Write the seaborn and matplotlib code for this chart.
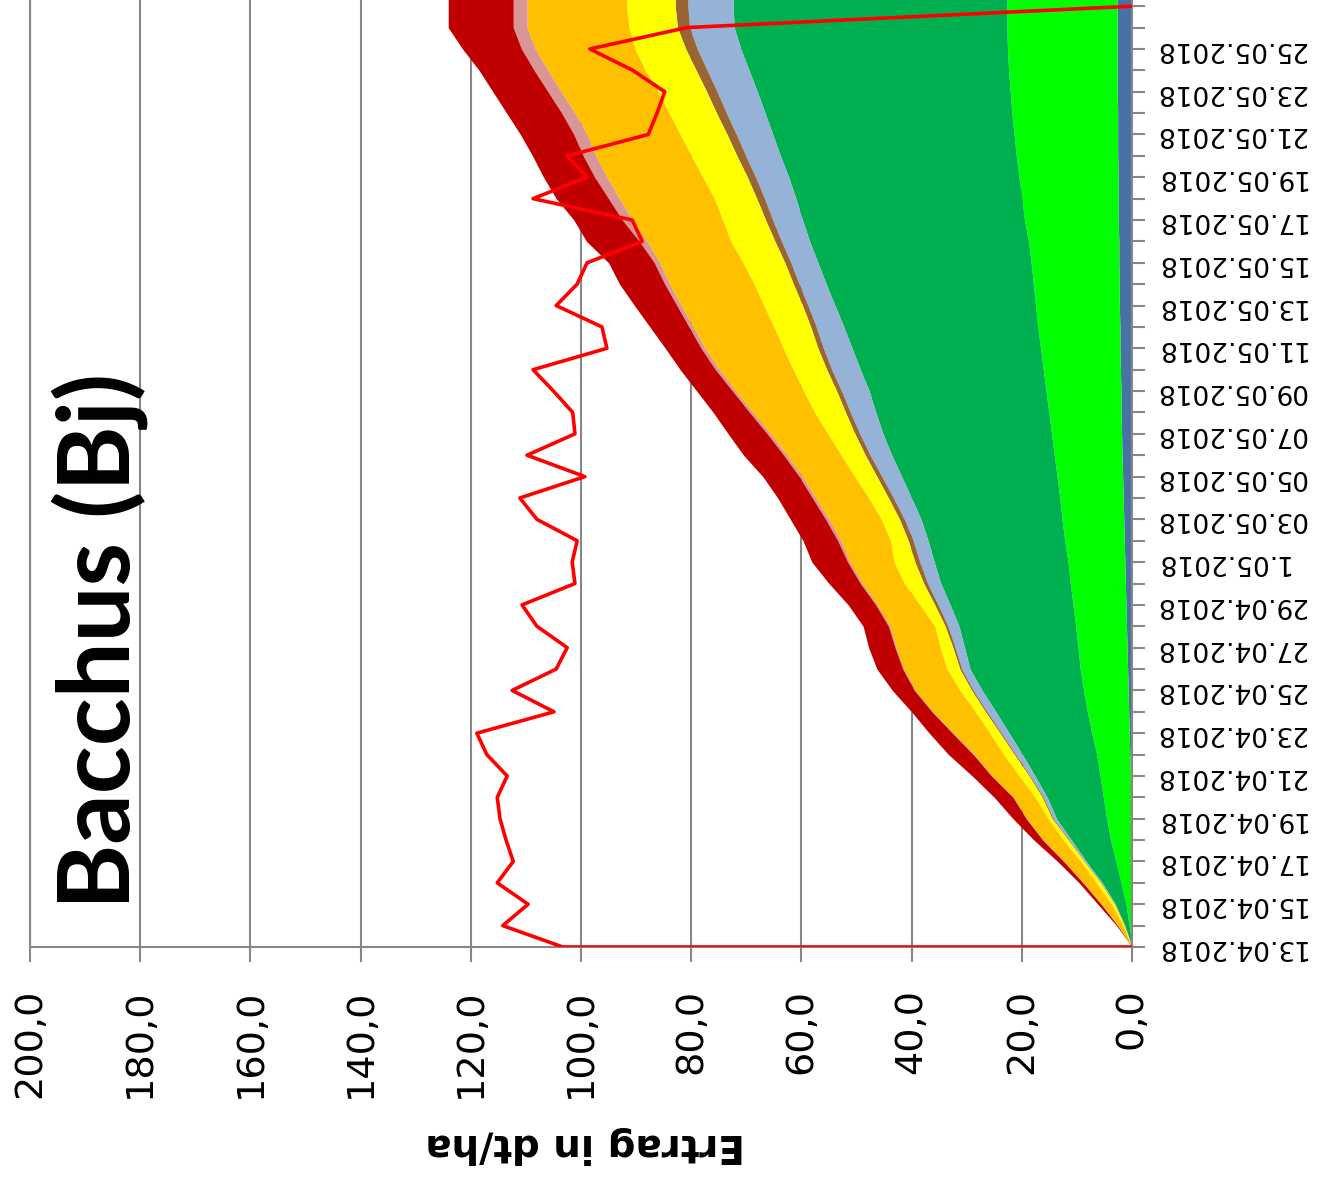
import numpy as np
import pandas as pd
import matplotlib
matplotlib.use("Agg")
import matplotlib.pyplot as plt
import matplotlib.dates as mdates
from matplotlib.ticker import FuncFormatter
import seaborn as sns

# ---------------- data ----------------
dates = pd.date_range("2018-04-13", "2018-05-28", freq="D")   # 46 days (last one runs off the top)
tick_dates = dates[:45]

date_labels = ["13.04.2018", "15.04.2018", "17.04.2018", "19.04.2018", "21.04.2018",
               "23.04.2018", "25.04.2018", "27.04.2018", "29.04.2018", "1.05.2018",
               "03.05.2018", "05.05.2018", "07.05.2018", "09.05.2018", "11.05.2018",
               "13.05.2018", "15.05.2018", "17.05.2018", "19.05.2018", "21.05.2018",
               "23.05.2018", "25.05.2018"]

value_ticks = [0, 20, 40, 60, 80, 100, 120, 140, 160, 180, 200]

# upper edges of the stacked areas (cumulative, dt/ha), one value per day
edge_blue = [0, 0.05, 0.1, 0.1, 0.15, 0.2, 0.2, 0.25, 0.3, 0.4,
             0.5, 0.6, 0.7, 0.8, 0.9, 1.0, 1.1, 1.2, 1.3, 1.4,
             1.5, 1.6, 1.7, 1.8, 1.9, 2.0, 2.0, 2.1, 2.2, 2.2,
             2.3, 2.3, 2.4, 2.4, 2.5, 2.5, 2.5, 2.6, 2.6, 2.6,
             2.7, 2.7, 2.7, 2.7, 2.7, 2.7]
edge_lime = [0, 0.5, 1.1, 2.0, 2.9, 3.9, 4.6, 5.2, 5.8, 6.4,
             7.3, 8.1, 8.8, 9.4, 9.8, 10.2, 10.7, 11.2, 11.6, 12.2,
             12.7, 13.1, 13.6, 14.1, 14.6, 15.1, 15.6, 16.1, 16.6, 17.1,
             17.5, 17.9, 18.3, 18.8, 19.5, 20.0, 20.5, 21.0, 21.4, 21.8,
             22.1, 22.4, 22.6, 22.7, 22.7, 22.7]
edge_green = [0, 1.3, 3.0, 5.4, 8.3, 11.0, 13.7, 15.4, 17.6, 19.9,
              22.3, 24.7, 27.2, 29.4, 30.4, 31.4, 33.0, 34.7, 35.9, 37.0,
              38.3, 40.0, 41.8, 43.6, 45.2, 46.5, 47.7, 49.3, 50.8, 52.3,
              53.9, 55.5, 57.0, 58.5, 59.8, 61.0, 62.3, 63.8, 65.2, 66.6,
              68.0, 69.5, 71.0, 72.2, 72.4, 72.4]
edge_lightblue = [0, 1.35, 3.1, 5.6, 8.6, 11.4, 14.3, 16.1, 18.5, 21.1,
                  23.7, 26.3, 28.8, 30.9, 32.1, 33.4, 35.2, 37.1, 38.5, 39.7,
                  41.3, 43.3, 45.4, 47.5, 49.4, 51.1, 52.7, 54.5, 56.0, 57.3,
                  58.8, 60.4, 61.9, 63.6, 65.2, 66.7, 68.3, 70.1, 71.8, 73.6,
                  75.3, 77.1, 78.9, 80.3, 80.6, 80.6]
edge_brown = [0, 1.4, 3.2, 5.7, 8.7, 11.55, 14.5, 16.3, 18.7, 21.35,
              23.95, 26.6, 29.1, 31.25, 32.5, 33.9, 35.8, 37.8, 39.4, 40.6,
              42.2, 44.2, 46.3, 48.4, 50.3, 52.0, 53.6, 55.4, 57.0, 58.3,
              59.8, 61.45, 63.0, 64.8, 66.5, 68.1, 69.8, 71.7, 73.5, 75.4,
              77.2, 79.1, 81.0, 82.5, 82.9, 82.9]
edge_yellow = [0, 1.6, 3.7, 6.5, 9.3, 12.5, 15.2, 17.6, 20.5, 23.3,
               25.8, 28.4, 31.2, 33.6, 34.8, 35.8, 38.5, 41.3, 43.2, 43.8,
               45.5, 47.8, 50.3, 52.8, 55.2, 57.6, 59.6, 61.5, 63.3, 65.0,
               66.8, 68.6, 70.6, 72.8, 74.3, 75.8, 77.9, 80.0, 82.0, 84.0,
               86.0, 88.3, 90.2, 91.3, 91.7, 91.7]
edge_orange = [0, 2.55, 5.55, 8.8, 12.3, 16.1, 19.1, 21.5, 25.4, 28.6,
               32.4, 36.1, 39.3, 41.4, 42.8, 43.9, 46.2, 48.9, 51.2, 52.8,
               55.0, 57.4, 59.8, 62.6, 65.6, 68.8, 71.9, 74.9, 77.5, 79.6,
               81.8, 83.9, 85.7, 88.0, 90.7, 93.0, 95.3, 97.3, 98.9, 101.1,
               103.6, 106.0, 108.3, 109.8, 109.8, 109.8]
edge_pink = [0, 2.6, 5.6, 8.9, 12.4, 16.2, 19.2, 21.6, 25.5, 28.8,
             32.6, 36.3, 39.5, 41.6, 43.0, 44.2, 46.5, 49.3, 51.6, 53.4,
             55.6, 58.0, 60.4, 63.2, 66.2, 69.4, 72.5, 75.6, 78.2, 80.4,
             82.6, 84.8, 86.7, 89.4, 92.5, 95.0, 97.5, 99.6, 101.3, 103.5,
             106.0, 108.5, 110.8, 112.3, 112.3, 112.3]
edge_darkred = [0, 2.8, 6.2, 9.6, 13.5, 17.8, 21.6, 25.0, 29.0, 33.3,
                36.8, 40.0, 43.5, 46.3, 47.8, 48.8, 51.5, 55.0, 58.1, 59.7,
                62.0, 64.3, 67.0, 70.5, 73.3, 76.0, 79.0, 82.0, 84.7, 87.5,
                90.3, 93.0, 95.0, 99.0, 101.3, 104.5, 106.8, 108.8, 111.0, 113.5,
                116.0, 118.5, 121.5, 124.1, 124.1, 124.1]

# red line (first date repeated: line starts at 0), 13.04 .. 27.05
red_dates = [dates[0]] + list(dates[:45])
red_values = [0, 103.3, 114.2, 109.6, 115.2, 112.3, 113.6, 114.7, 115.2, 113.4, 117.1,
              118.9, 104.9, 112.5, 104.5, 102.5, 108.0, 110.7, 101.1, 101.6, 100.7,
              108.0, 111.1, 99.3, 109.8, 101.1, 101.5, 105.0, 108.7, 95.3, 96.2,
              104.5, 100.7, 98.9, 88.9, 90.7, 108.7, 98.9, 102.5, 87.8, 86.2,
              84.8, 90.6, 98.4, 80.8, 0]

layer_colors = ["#4672A6", "#00FF00", "#00B050", "#95B3D7", "#996633",
                "#FFFF00", "#FFC000", "#D99694", "#C00000"]

# ---------------- drawing ----------------
sns.set_theme(style="white")
plt.rcParams["font.family"] = ["DejaVu Sans"]
GRAY = "#878787"

W, H = 1323, 1182
fig = plt.figure(figsize=(W / 100, H / 100), dpi=100)
ax = fig.add_axes([30 / W, 235 / H, 1102 / W, 947 / H])

y = mdates.date2num(dates)
edges = [np.zeros(len(y)), edge_blue, edge_lime, edge_green, edge_lightblue,
         edge_brown, edge_yellow, edge_orange, edge_pink, edge_darkred]
for lo, hi, c in zip(edges[:-1], edges[1:], layer_colors):
    ax.fill_betweenx(y, lo, hi, color=c, lw=0, zorder=2)

red_df = pd.DataFrame({"value": red_values, "date": mdates.date2num(red_dates)})
sns.lineplot(data=red_df, x="value", y="date", estimator=None, sort=False,
             color="#FF0000", lw=2.6, ax=ax, zorder=3)

ax.set_xlim(200, 0)
ax.set_ylim(y[0], y[0] + 44.29)
ax.set_xlabel("")
ax.set_ylabel("")

ax.set_xticks(value_ticks)
ax.xaxis.set_major_formatter(FuncFormatter(lambda v, p: f"{v:.1f}".replace(".", ",")))
ax.grid(axis="x", color=GRAY, lw=1.5, zorder=1)
ax.grid(axis="y", visible=False)
ax.set_axisbelow(True)

yt = mdates.date2num(tick_dates)
ylabels = []
for i in range(len(yt)):
    ylabels.append(date_labels[i // 2] if (i % 2 == 0 and i // 2 < len(date_labels)) else "")
ax.set_yticks(yt)
ax.set_yticklabels(ylabels)
ax.yaxis.tick_right()

ax.tick_params(axis="y", which="major", right=True, left=False, labelright=True,
               labelleft=False, direction="out", length=9.5, width=1.5,
               color=GRAY, pad=7, labelsize=19, labelcolor="black")
ax.tick_params(axis="x", which="major", bottom=True, direction="out", length=11,
               width=1.5, color=GRAY, pad=19, labelsize=27.5, labelcolor="black",
               labelrotation=90)
for lab in ax.get_yticklabels():
    lab.set_rotation(180)
    lab.set_va("center")

for side in ["left", "right", "bottom"]:
    ax.spines[side].set_visible(True)
    ax.spines[side].set_color(GRAY)
    ax.spines[side].set_linewidth(1.5)
ax.spines["top"].set_visible(False)

fig.text(585 / W, 1 - 1145 / H, "Ertrag in dt/ha", rotation=180, ha="center",
         va="center", fontsize=28, fontweight="bold", color="black")
fig.text(100 / W, 1 - 641 / H, "Bacchus (Bj)", rotation=90, ha="center",
         va="center", fontsize=71.5, fontweight="bold", family=["Lato", "DejaVu Sans"],
         color="black", zorder=5)

fig.savefig("out.png", dpi=100)
